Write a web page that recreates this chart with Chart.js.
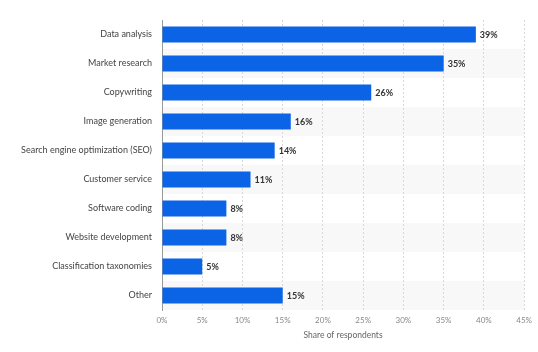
<!DOCTYPE html>
<html><head><meta charset="utf-8">
<script src="https://cdn.jsdelivr.net/npm/chart.js@4/dist/chart.umd.min.js"></script>
<style>html,body{margin:0;padding:0;background:#fff;}canvas{display:block;}</style>
</head><body>
<canvas id="c" width="538" height="352"></canvas>
<script>
const categories = ["Data analysis","Market research","Copywriting","Image generation","Search engine optimization (SEO)","Customer service","Software coding","Website development","Classification taxonomies","Other"];
const shares = [39,35,26,16,14,11,8,8,5,15];
const xTicks = [0,5,10,15,20,25,30,35,40,45];
const axisTitle = "Share of respondents";

const FONT = "Lato, 'Open Sans', sans-serif";

const bandPlugin = {
  id: 'bands',
  beforeDraw(chart) {
    const {ctx, chartArea, scales} = chart;
    const y = scales.y;
    const step = (chartArea.bottom - chartArea.top) / categories.length;
    ctx.save();
    ctx.fillStyle = '#f8f8f8';
    categories.forEach((c, i) => {
      if (i % 2 === 1) {
        const cy = y.getPixelForValue(i);
        ctx.fillRect(chartArea.left, cy - step/2, chartArea.right - chartArea.left, step);
      }
    });
    ctx.restore();
  }
};

const labelPlugin = {
  id: 'vlabels',
  afterDatasetsDraw(chart) {
    const {ctx} = chart;
    const meta = chart.getDatasetMeta(0);
    ctx.save();
    ctx.font = "bold 9px " + FONT;
    ctx.fillStyle = '#333';
    ctx.textAlign = 'left';
    ctx.textBaseline = 'middle';
    meta.data.forEach((el, i) => {
      ctx.fillText(shares[i] + '%', el.x + 4, el.y + 1);
    });
    ctx.restore();
  }
};

new Chart(document.getElementById('c'), {
  type: 'bar',
  data: {
    labels: categories,
    datasets: [{
      data: shares,
      backgroundColor: '#0b63e5',
      borderWidth: 0,
      barPercentage: 0.55,
      categoryPercentage: 1.0
    }]
  },
  options: {
    indexAxis: 'y',
    responsive: false,
    animation: false,
    devicePixelRatio: 1,
    layout: { padding: { top: 20, right: 11, left: 0, bottom: 12 } },
    plugins: { legend: { display: false }, tooltip: { enabled: false } },
    scales: {
      x: {
        min: 0, max: 45,
        afterBuildTicks(scale) { scale.ticks = xTicks.map(v => ({value: v})); },
        afterFit(scale) { scale.height = 30; },
        ticks: {
          callback: v => v + '%',
          font: { family: FONT, size: 8 },
          color: '#888',
          padding: 6,
          maxRotation: 0
        },
        grid: { color: '#d8d8d8', drawTicks: false },
        border: { display: false, dash: [2, 2] },
        title: {
          display: true,
          text: axisTitle,
          font: { family: FONT, size: 8.5 },
          color: '#666',
          padding: { top: 2, bottom: 0 }
        }
      },
      y: {
        afterFit(scale) { scale.width = 162; },
        ticks: {
          font: { family: FONT, size: 9 },
          color: '#444',
          padding: 10
        },
        grid: { display: false, drawTicks: false },
        border: { display: true, color: '#999', width: 1 }
      }
    }
  },
  plugins: [bandPlugin, labelPlugin]
});
</script>
</body></html>
